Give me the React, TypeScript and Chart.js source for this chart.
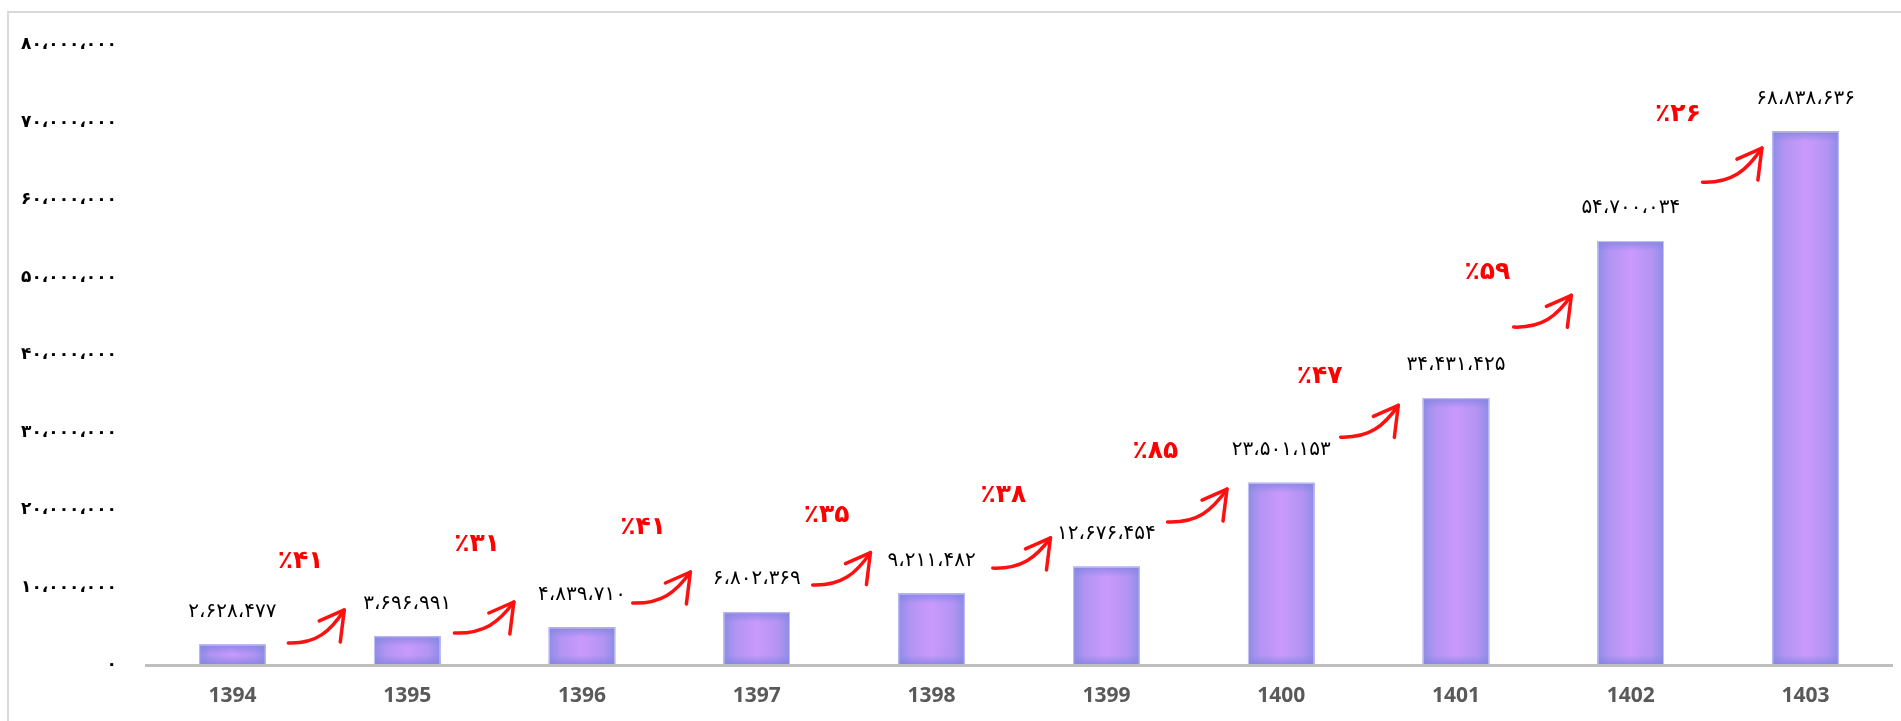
import React, { useEffect, useRef } from 'react';
import { Chart, registerables } from 'chart.js';

Chart.register(...registerables);

// ---- data ----
const years = ['1394', '1395', '1396', '1397', '1398', '1399', '1400', '1401', '1402', '1403'];
const values = [2628477, 3696991, 4839710, 6802369, 9211482, 12676454, 23501153, 34431425, 54700034, 68838636];
const growthPercents = [41, 31, 41, 35, 38, 85, 47, 59, 26];
const yTickValues = [0, 10000000, 20000000, 30000000, 40000000, 50000000, 60000000, 70000000, 80000000];

// annotation anchors (category index units / value units)
const growthLabelIdx = [0.39, 1.4, 2.35, 3.4, 4.41, 5.28, 6.22, 7.18, 8.27];
const growthLabelVal = [13300000, 15500000, 17700000, 19350000, 21900000, 27500000, 37200000, 50700000, 71000000];
const arrowFromIdx = [0.32, 1.27, 2.29, 3.32, 4.35, 5.35, 6.34, 7.33, 8.41];
const arrowFromVal = [2840000, 4130000, 8000000, 10320000, 12500000, 18450000, 29400000, 43600000, 62300000];
const arrowToIdx = [0.64, 1.61, 2.62, 3.65, 4.68, 5.69, 6.67, 7.66, 8.75];
const arrowToVal = [7100000, 8130000, 12000000, 14500000, 16400000, 22700000, 33500000, 47700000, 66700000];

const FA_DIGITS = '۰۱۲۳۴۵۶۷۸۹';
const toFa = (s: string) => s.replace(/\d/g, (d) => FA_DIGITS[+d]);
const faNum = (n: number) => toFa(Math.round(n).toString().replace(/\B(?=(\d{3})+(?!\d))/g, '،'));
const faPct = (n: number) => '٪' + toFa(String(n));

const framePlugin = {
  id: 'frame',
  beforeDraw(chart: any) {
    const c = chart.ctx;
    c.save();
    c.fillStyle = '#ffffff';
    c.fillRect(0, 0, chart.width, chart.height);
    c.strokeStyle = '#d9d9d9';
    c.lineWidth = 2;
    c.beginPath();
    c.moveTo(8, chart.height);
    c.lineTo(8, 12);
    c.lineTo(chart.width, 12);
    c.stroke();
    c.restore();
  },
};

const barStylePlugin = {
  id: 'barStyle',
  afterDatasetsDraw(chart: any) {
    const c = chart.ctx;
    const meta = chart.getDatasetMeta(0);
    c.save();
    meta.data.forEach((el: any) => {
      const { x, y, base, width } = el.getProps(['x', 'y', 'base', 'width'], true);
      const left = x - width / 2;
      const h = base - y;
      const g = c.createLinearGradient(left, 0, left + width, 0);
      g.addColorStop(0, '#8d8de6');
      g.addColorStop(0.18, '#b394f3');
      g.addColorStop(0.5, '#c99afc');
      g.addColorStop(0.82, '#b394f3');
      g.addColorStop(1, '#8d8de6');
      c.fillStyle = g;
      c.fillRect(left, y, width, h);
      const fade = Math.min(10, h / 2);
      const gt = c.createLinearGradient(0, y, 0, y + fade);
      gt.addColorStop(0, 'rgba(132,132,226,0.85)');
      gt.addColorStop(1, 'rgba(132,132,226,0)');
      c.fillStyle = gt;
      c.fillRect(left, y, width, fade);
      const gb = c.createLinearGradient(0, base - fade, 0, base);
      gb.addColorStop(0, 'rgba(132,132,226,0)');
      gb.addColorStop(1, 'rgba(132,132,226,0.85)');
      c.fillStyle = gb;
      c.fillRect(left, base - fade, width, fade);
      c.strokeStyle = '#c3c3f3';
      c.lineWidth = 1;
      c.strokeRect(left + 0.5, y + 0.5, width - 1, h - 1);
    });
    // x axis baseline
    const area = chart.chartArea;
    c.strokeStyle = '#bfbfbf';
    c.lineWidth = 3;
    c.beginPath();
    c.moveTo(area.left, area.bottom + 0.5);
    c.lineTo(area.right, area.bottom + 0.5);
    c.stroke();
    c.restore();
  },
};

const labelsPlugin = {
  id: 'labels',
  afterDatasetsDraw(chart: any) {
    const c = chart.ctx;
    const meta = chart.getDatasetMeta(0);
    const xs = chart.scales.x;
    const ys = chart.scales.y;
    c.save();
    c.direction = 'ltr';
    c.textAlign = 'center';
    c.textBaseline = 'middle';
    // value labels
    c.fillStyle = '#000000';
    c.font = '20px "DejaVu Sans"';
    meta.data.forEach((el: any, i: number) => {
      const { x, y } = el.getProps(['x', 'y'], true);
      c.fillText(faNum(values[i]), x, y - 33);
    });
    // growth labels
    c.fillStyle = '#ff0000';
    c.font = 'bold 25px "DejaVu Sans"';
    growthPercents.forEach((p, i) => {
      c.fillText(faPct(p), xs.getPixelForValue(growthLabelIdx[i]), ys.getPixelForValue(growthLabelVal[i]));
    });
    // arrows
    c.strokeStyle = '#ff1010';
    c.lineWidth = 3.5;
    c.lineCap = 'round';
    c.lineJoin = 'round';
    arrowFromIdx.forEach((_, i) => {
      const x0 = xs.getPixelForValue(arrowFromIdx[i]);
      const y0 = ys.getPixelForValue(arrowFromVal[i]);
      const x1 = xs.getPixelForValue(arrowToIdx[i]);
      const y1 = ys.getPixelForValue(arrowToVal[i]);
      const w = x1 - x0;
      const h = y0 - y1;
      c.beginPath();
      c.moveTo(x0, y0);
      c.bezierCurveTo(x0 + 0.5 * w, y0 + 0.03 * h, x0 + 0.75 * w, y0 - 0.35 * h, x1, y1);
      c.stroke();
      c.beginPath();
      c.moveTo(x1 - 25, y1 + 11);
      c.lineTo(x1, y1);
      c.lineTo(x1 - 4, y1 + 32);
      c.stroke();
    });
    c.restore();
  },
};

export default function App() {
  const ref = useRef<HTMLCanvasElement>(null);
  useEffect(() => {
    document.body.style.margin = '0';
    const canvas = ref.current;
    if (!canvas) return;
    const chart = new Chart(canvas, {
      type: 'bar',
      data: {
        labels: years,
        datasets: [
          {
            data: values,
            backgroundColor: '#c898fb',
            borderWidth: 0,
            categoryPercentage: 1,
            barPercentage: 0.38,
          },
        ],
      },
      options: {
        responsive: false,
        animation: false,
        events: [],
        layout: { padding: { top: 45, right: 8, left: 0, bottom: 0 } },
        plugins: { legend: { display: false }, tooltip: { enabled: false } },
        scales: {
          x: {
            type: 'category',
            grid: { display: false, drawTicks: false },
            border: { display: false },
            ticks: {
              font: { family: '"Open Sans"', size: 21, weight: 'bold' },
              color: '#595959',
              padding: 18,
              maxRotation: 0,
            },
            afterFit: (s: any) => {
              s.height = 56;
            },
          },
          y: {
            type: 'linear',
            min: 0,
            max: 80000000,
            afterBuildTicks: (s: any) => {
              s.ticks = yTickValues.map((v) => ({ value: v }));
            },
            grid: { display: false, drawTicks: false },
            border: { display: false },
            ticks: {
              font: { family: '"DejaVu Sans"', size: 17, weight: 'bold' },
              color: '#000000',
              padding: 28,
              callback: (v: any) => faNum(Number(v)),
            },
            afterFit: (s: any) => {
              s.width = 145;
            },
          },
        },
      },
      plugins: [framePlugin, barStylePlugin, labelsPlugin],
    });
    return () => chart.destroy();
  }, []);
  return (
    <div style={{ width: 1901, height: 721 }}>
      <canvas ref={ref} width={1901} height={721} style={{ display: 'block' }} />
    </div>
  );
}
